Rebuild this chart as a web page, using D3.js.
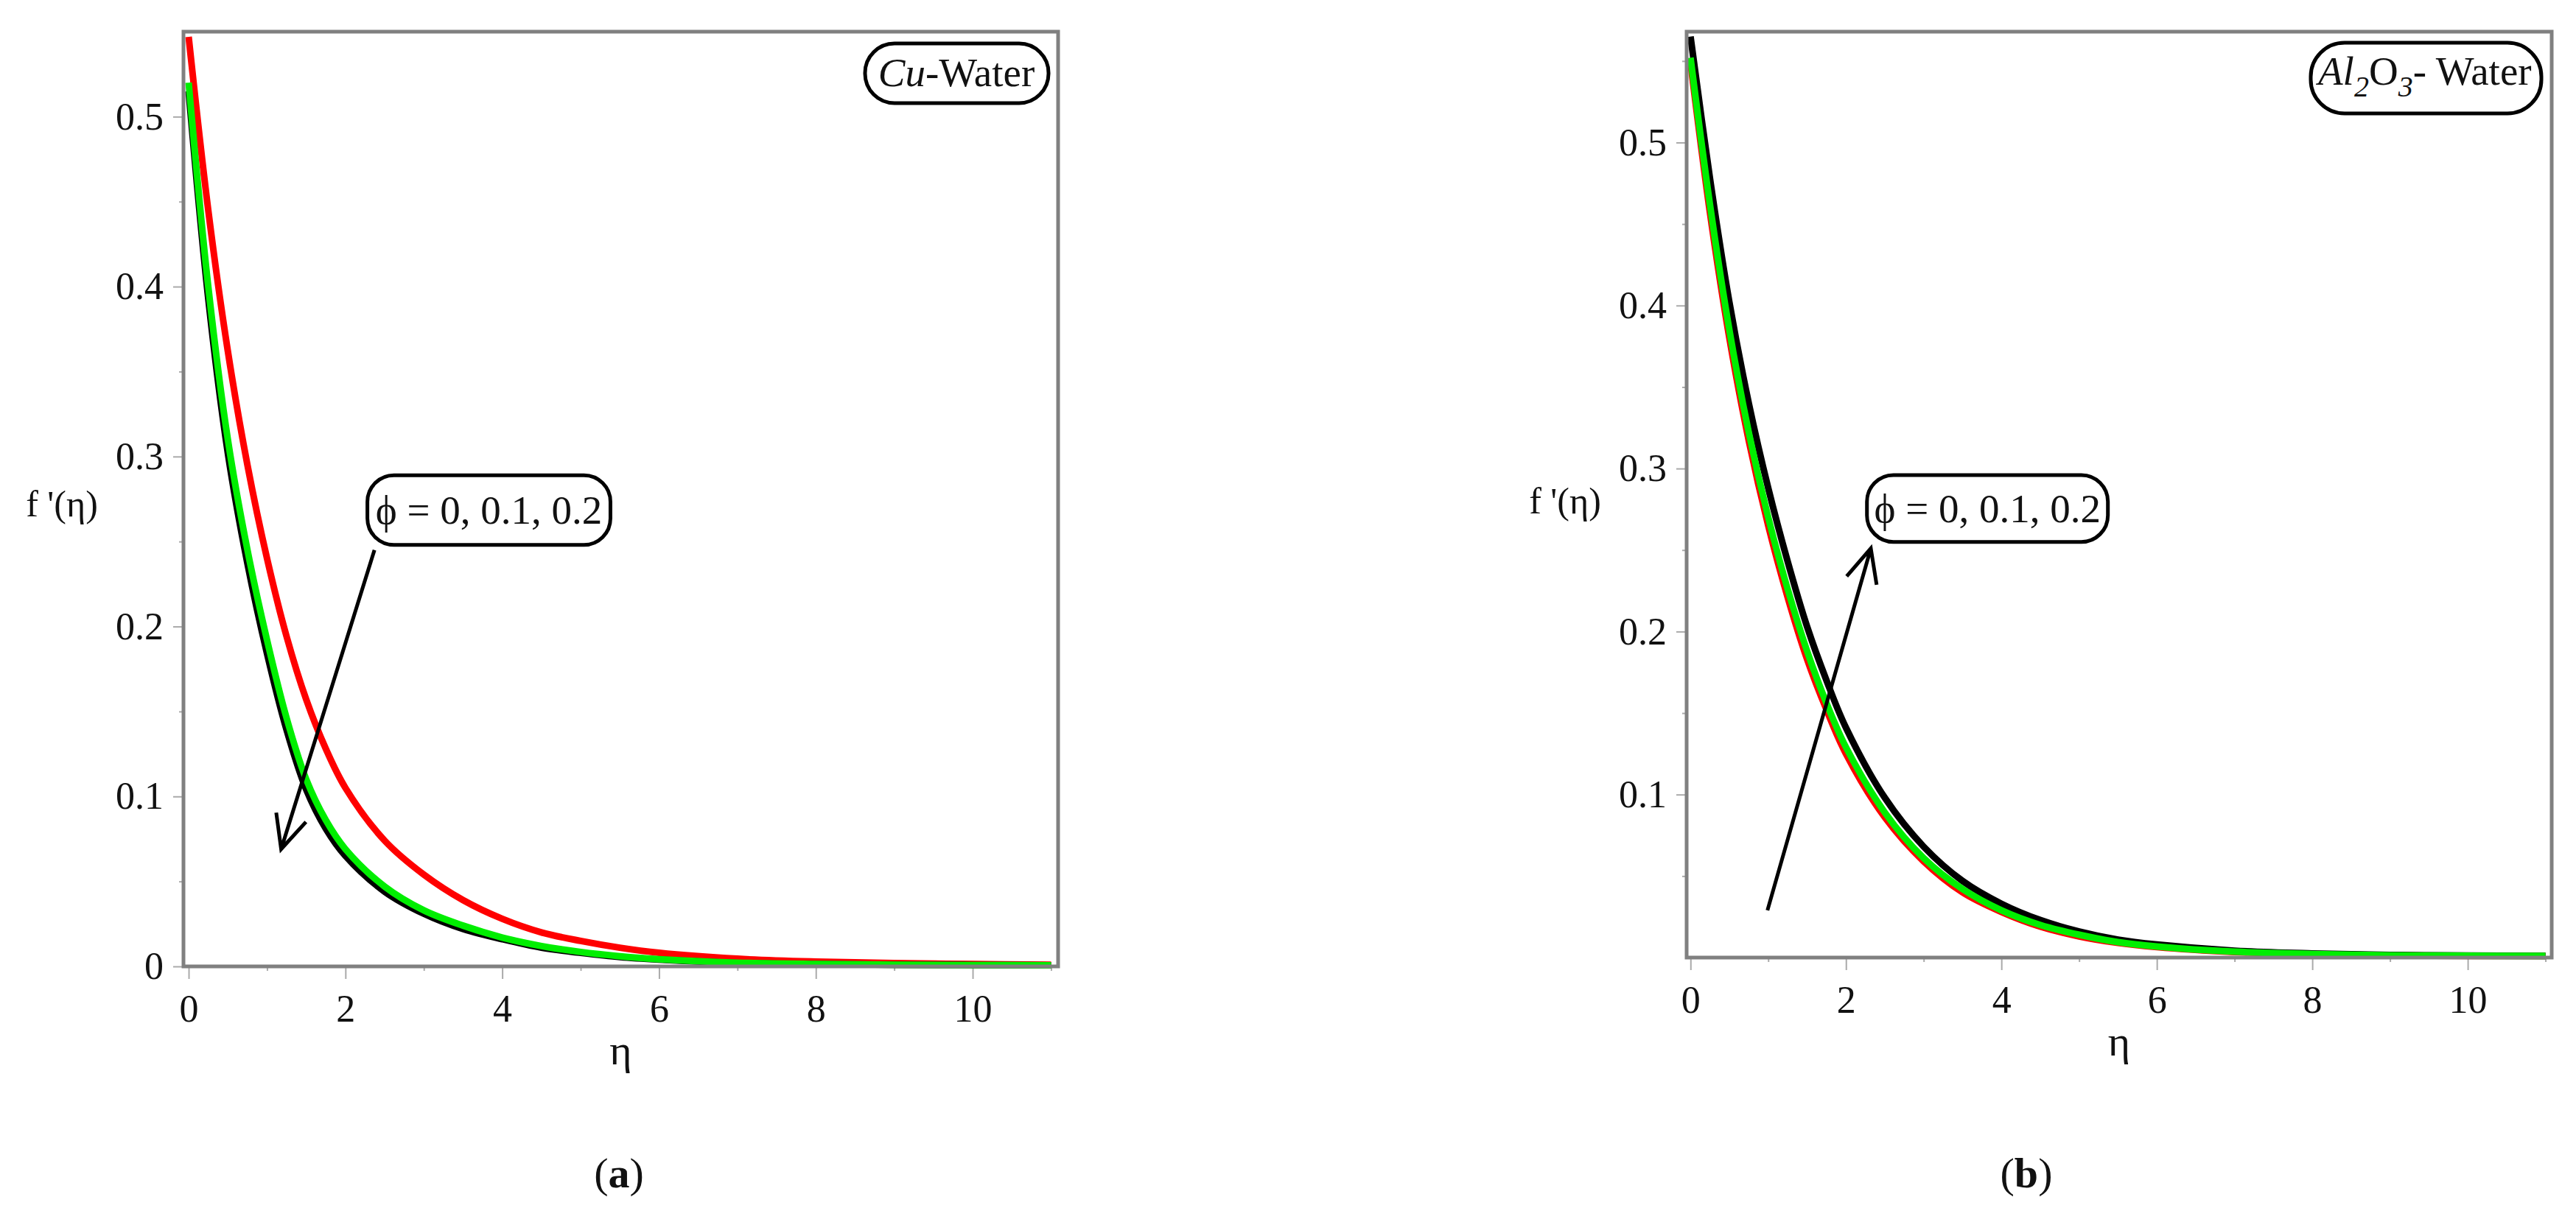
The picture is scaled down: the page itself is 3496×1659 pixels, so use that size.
<!DOCTYPE html>
<html>
<head>
<meta charset="utf-8">
<script src="https://cdn.jsdelivr.net/npm/d3@7"></script>
<style>
  html, body { margin: 0; padding: 0; background: #fff; }
  svg text { font-family: "Liberation Serif", "Times New Roman", serif; fill: #111; }
</style>
</head>
<body>
<div id="chart"></div>
<script>
// valores de eta donde leemos las curvas
const eta = [0, 0.25, 0.5, 0.75, 1, 1.25, 1.5, 1.75, 2, 2.5, 3, 3.5, 4, 4.5, 5, 5.5, 6, 7, 8, 9, 10, 11];

// (a) Cu-Water
const cuRed   = [0.547, 0.445, 0.362, 0.295, 0.240, 0.194, 0.157, 0.128, 0.105, 0.074, 0.054, 0.039, 0.028, 0.020, 0.015, 0.011, 0.008, 0.0045, 0.0028, 0.0019, 0.0014, 0.001];
const cuBlack = [0.515, 0.393, 0.302, 0.237, 0.184, 0.139, 0.104, 0.081, 0.065, 0.044, 0.031, 0.022, 0.016, 0.011, 0.008, 0.0055, 0.004, 0.002, 0.0013, 0.001, 0.0008, 0.0007];
const cuGreen = [0.520, 0.400, 0.310, 0.245, 0.192, 0.146, 0.110, 0.086, 0.069, 0.047, 0.033, 0.024, 0.017, 0.012, 0.0085, 0.006, 0.0042, 0.0022, 0.0014, 0.001, 0.0008, 0.0007];

// (b) Al2O3-Water
const alRed   = [0.549, 0.457, 0.380, 0.317, 0.265, 0.221, 0.183, 0.152, 0.125, 0.086, 0.059, 0.040, 0.028, 0.019, 0.013, 0.009, 0.0064, 0.0034, 0.002, 0.0013, 0.001, 0.001];
const alBlack = [0.565, 0.478, 0.402, 0.340, 0.288, 0.243, 0.203, 0.170, 0.141, 0.098, 0.068, 0.047, 0.033, 0.023, 0.016, 0.011, 0.008, 0.0042, 0.0025, 0.0016, 0.0012, 0.001];
const alGreen = [0.552, 0.462, 0.385, 0.322, 0.270, 0.226, 0.188, 0.156, 0.129, 0.089, 0.061, 0.042, 0.029, 0.020, 0.014, 0.0095, 0.0068, 0.0036, 0.0022, 0.0014, 0.0011, 0.001];

// ticks
const xTicks = [0, 2, 4, 6, 8, 10];
const xMinor = [1, 3, 5, 7, 9, 11];
const yTicksA = [0, 0.1, 0.2, 0.3, 0.4, 0.5];
const yTicksB = [0.1, 0.2, 0.3, 0.4, 0.5];
const yMinor = [0.05, 0.15, 0.25, 0.35, 0.45, 0.55];

const W = 3496, H = 1659;

const svg = d3.select('#chart')
  .append('svg')
  .attr('width', W)
  .attr('height', H);

svg.append('rect').attr('width', W).attr('height', H).attr('fill', '#fff');

const panels = [
  {
    left: 249, right: 1436, top: 43, bottom: 1312,
    xDomain: [-0.066, 11.09], yDomain: [0, 0.55],
    yTicks: yTicksA,
    series: [
      { values: cuRed, color: '#ff0000' },
      { values: cuBlack, color: '#000000' },
      { values: cuGreen, color: '#00ee00' }
    ],
    tag: 'cu',
    phiBox: [2.28, 5.38, 0.289, 0.248],
    arrow: { from: [2.37, 0.245], to: [1.18, 0.069] },
    yLabel: 0.272,
    caption: 'a', captionX: 840
  },
  {
    left: 2289, right: 3463, top: 43, bottom: 1300,
    xDomain: [-0.05, 11.08], yDomain: [0, 0.568],
    yTicks: yTicksB,
    series: [
      { values: alRed, color: '#ff0000' },
      { values: alBlack, color: '#000000' },
      { values: alGreen, color: '#00ee00' }
    ],
    tag: 'al',
    phiBox: [2.27, 5.37, 0.296, 0.255],
    arrow: { from: [0.99, 0.029], to: [2.32, 0.251] },
    yLabel: 0.28,
    caption: 'b', captionX: 2750
  }
];

const drawPanel = (p) => {
  const x = d3.scaleLinear().domain(p.xDomain).range([p.left, p.right]);
  const y = d3.scaleLinear().domain(p.yDomain).range([p.bottom, p.top]);
  const g = svg.append('g');

  // ejes
  g.append('g')
    .attr('transform', `translate(0, ${p.bottom})`)
    .call(d3.axisBottom(x).tickValues(xTicks).tickSize(17).tickPadding(21).tickFormat(d3.format('d')));
  g.append('g')
    .attr('transform', `translate(${p.left}, 0)`)
    .call(d3.axisLeft(y).tickValues(p.yTicks).tickSize(14).tickPadding(13)
      .tickFormat(d => d === 0 ? '0' : d3.format('.1f')(d)));

  // ticks menores
  g.append('g')
    .attr('transform', `translate(0, ${p.bottom})`)
    .call(d3.axisBottom(x).tickValues(xMinor).tickSize(6).tickFormat(''));
  g.append('g')
    .attr('transform', `translate(${p.left}, 0)`)
    .call(d3.axisLeft(y).tickValues(yMinor.filter(v => v < p.yDomain[1])).tickSize(6).tickFormat(''));

  g.selectAll('.domain').remove();
  g.selectAll('.tick line').attr('stroke', '#aaa').attr('stroke-width', 2);
  g.selectAll('.tick text')
    .attr('font-size', 52)
    .attr('font-family', '"Liberation Serif", serif')
    .attr('fill', '#111');

  // curvas
  const line = d3.line()
    .x((d, i) => x(eta[i]))
    .y(d => y(d))
    .curve(d3.curveCatmullRom.alpha(0.5));

  g.selectAll('path.curve')
    .data(p.series)
    .join('path')
    .attr('class', 'curve')
    .attr('fill', 'none')
    .attr('stroke', d => d.color)
    .attr('stroke-width', 9)
    .attr('d', d => line(d.values));

  // marco
  g.append('rect')
    .attr('x', p.left)
    .attr('y', p.top)
    .attr('width', p.right - p.left)
    .attr('height', p.bottom - p.top)
    .attr('fill', 'none')
    .attr('stroke', '#808080')
    .attr('stroke-width', 5);

  // etiqueta del fluido
  if (p.tag === 'cu') {
    g.append('rect')
      .attr('x', 1174).attr('y', 59).attr('width', 249).attr('height', 81)
      .attr('rx', 40).attr('fill', '#fff').attr('stroke', '#000').attr('stroke-width', 5);
    const t = g.append('text').attr('x', 1298).attr('y', 117).attr('text-anchor', 'middle').attr('font-size', 55);
    t.append('tspan').attr('font-style', 'italic').text('Cu');
    t.append('tspan').text('-Water');
  } else {
    g.append('rect')
      .attr('x', 3136).attr('y', 58).attr('width', 313).attr('height', 96)
      .attr('rx', 46).attr('fill', '#fff').attr('stroke', '#000').attr('stroke-width', 5);
    const t = g.append('text').attr('x', 3146).attr('y', 115).attr('font-size', 55);
    t.append('tspan').attr('font-style', 'italic').text('Al');
    t.append('tspan').attr('font-style', 'italic').attr('font-size', 40).attr('dy', 16).text('2');
    t.append('tspan').attr('dy', -16).text('O');
    t.append('tspan').attr('font-style', 'italic').attr('font-size', 40).attr('dy', 16).text('3');
    t.append('tspan').attr('dy', -16).text('- Water');
  }

  // caja phi
  const [bx0, bx1, by0, by1] = p.phiBox;
  g.append('rect')
    .attr('x', x(bx0)).attr('y', y(by0))
    .attr('width', x(bx1) - x(bx0)).attr('height', y(by1) - y(by0))
    .attr('rx', 36).attr('fill', '#fff').attr('stroke', '#000').attr('stroke-width', 5);
  g.append('text')
    .attr('x', (x(bx0) + x(bx1)) / 2)
    .attr('y', (y(by0) + y(by1)) / 2 + 19)
    .attr('text-anchor', 'middle')
    .attr('font-size', 55)
    .text('\u03D5 = 0, 0.1, 0.2');

  // flecha
  const [ax0, ay0] = [x(p.arrow.from[0]), y(p.arrow.from[1])];
  const [ax1, ay1] = [x(p.arrow.to[0]), y(p.arrow.to[1])];
  const ang = Math.atan2(ay0 - ay1, ax0 - ax1);
  const head = 50, spread = 25 * Math.PI / 180;
  const arrowPath = d3.path();
  arrowPath.moveTo(ax0, ay0);
  arrowPath.lineTo(ax1, ay1);
  arrowPath.moveTo(ax1 + head * Math.cos(ang - spread), ay1 + head * Math.sin(ang - spread));
  arrowPath.lineTo(ax1, ay1);
  arrowPath.lineTo(ax1 + head * Math.cos(ang + spread), ay1 + head * Math.sin(ang + spread));
  g.append('path')
    .attr('d', arrowPath.toString())
    .attr('fill', 'none')
    .attr('stroke', '#000')
    .attr('stroke-width', 5);

  // títulos de ejes
  g.append('text')
    .attr('x', p.left - 165)
    .attr('y', y(p.yLabel) + 17)
    .attr('text-anchor', 'middle')
    .attr('font-size', 50)
    .text("f '(\u03B7)");

  g.append('text')
    .attr('x', (p.left + p.right) / 2)
    .attr('y', p.bottom + 133)
    .attr('text-anchor', 'middle')
    .attr('font-size', 58)
    .text('\u03B7');

  const cap = g.append('text')
    .attr('x', p.captionX)
    .attr('y', 1612)
    .attr('text-anchor', 'middle')
    .attr('font-size', 58);
  cap.append('tspan').text('(');
  cap.append('tspan').attr('font-weight', 'bold').text(p.caption);
  cap.append('tspan').text(')');
};

panels.forEach(drawPanel);
</script>
</body>
</html>
